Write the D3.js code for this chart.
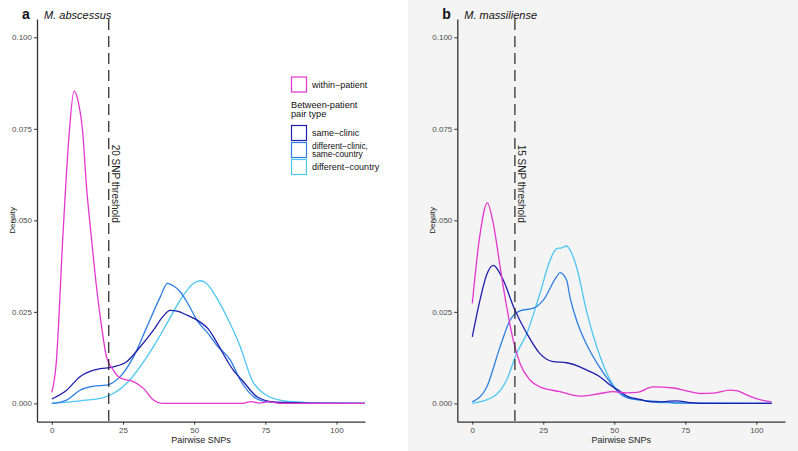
<!DOCTYPE html>
<html><head><meta charset="utf-8">
<script src="https://cdn.jsdelivr.net/npm/d3@7"></script>
<style>
body{margin:0;background:#fff;}
svg{display:block;font-family:"Liberation Sans",Arial,sans-serif;}
</style></head>
<body><svg id="c" width="798" height="451"></svg>
<script>
// ---- data ----
const yTicks = [0, 0.025, 0.05, 0.075, 0.1];
const xTicks = [0, 25, 50, 75, 100];
const seriesNames = ["within-patient","same-clinic","different-clinic","different-country"];
const seriesColors = ["#e535cf","#1f1fae","#2d7fe4","#4cc6f3"];
const legendLabels = [["within\u2212patient"],["same\u2212clinic"],["different\u2212clinic,","same-country"],["different\u2212country"]];
const panelLetters = ["a","b"];
const panelTitles = ["M. abscessus","M. massiliense"];
const thresholds = [20, 15];
const thresholdLabels = ["20 SNP threshold","15 SNP threshold"];

const aWithin = [[0,0.0030],[1.5,0.0105],[4,0.0473],[6.1,0.0737],[7.8,0.0853],[9.4,0.082],[10.8,0.0746],[12.2,0.0591],[14,0.0446],[15.7,0.0318],[17.5,0.0209],[19.2,0.0127],[21.6,0.0091],[23.4,0.0073],[26.3,0.0064],[28.2,0.0061],[32.2,0.0041],[35.7,0.0009],[38.6,0],[50,0],[67,0],[70,0.0005],[73,0.0001],[76,0.0005],[80,0],[110,0]];
const aSameClinic = [[0,0.0012],[5.2,0.0036],[9.9,0.0073],[15.8,0.0093],[21.6,0.0100],[26.3,0.0114],[31,0.0154],[35.7,0.0200],[39,0.0237],[41.6,0.0254],[44,0.0252],[47.5,0.0241],[52.1,0.0222],[55,0.0203],[58,0.0166],[61.5,0.0118],[64,0.0088],[66.8,0.0064],[72.1,0.0018],[77.9,0.0004],[85,0.0002],[90,0],[110,0]];
const aDiffClinic = [[0,0],[5.2,0.0009],[9.9,0.0036],[14.6,0.0047],[19.3,0.0050],[24,0.0073],[28.7,0.0127],[33.4,0.0209],[38.1,0.0291],[40.6,0.0328],[42.5,0.0322],[45.1,0.0305],[48,0.0270],[51,0.0227],[55,0.0190],[58,0.0158],[62.7,0.0118],[66.2,0.0064],[70.9,0.0018],[75.6,0.0004],[80,0.0002],[110,0]];
const aDiffCountry = [[0,0],[9.9,0.0007],[18.1,0.0016],[21.6,0.0027],[26.3,0.0055],[31,0.0100],[35.7,0.0155],[40.4,0.0218],[45.1,0.0282],[49.8,0.0328],[52.1,0.0335],[54,0.0330],[57,0.0300],[61.5,0.0236],[66.2,0.0155],[70.3,0.0064],[74.4,0.0027],[81.5,0.0007],[87,0.0004],[92,0.0001],[110,0]];

const bWithin = [[0,0.0273],[2.5,0.0450],[5.3,0.0548],[7.4,0.0491],[9.8,0.0373],[12.1,0.0264],[14.4,0.0173],[16.8,0.0109],[20.3,0.0064],[23.8,0.0045],[30.9,0.0032],[37.9,0.0020],[44.9,0.0027],[49.6,0.0032],[54.3,0.0029],[58,0.0030],[63.7,0.0045],[70.8,0.0042],[75,0.0035],[80.2,0.0027],[85,0.0028],[90.7,0.0036],[93,0.0035],[96.6,0.0023],[100,0.0013],[105.4,0.0004]];
const bSameClinic = [[0,0.0182],[2.7,0.0282],[5,0.0350],[7.4,0.0377],[9,0.0365],[10.9,0.0337],[15,0.0255],[19.2,0.0191],[23.8,0.0136],[28.5,0.0114],[33.2,0.0111],[37.9,0.0100],[40.3,0.0091],[44.9,0.0073],[48.5,0.0050],[52,0.0033],[54.4,0.0020],[59,0.0011],[63.7,0.0004],[68,0.0005],[71.9,0.0007],[76,0.0003],[80,0],[105.4,0]];
const bDiffClinic = [[0,0.0004],[5.1,0.0045],[9.8,0.0155],[13.3,0.0227],[16.8,0.0253],[21.5,0.0260],[25,0.0282],[29.7,0.0346],[30.9,0.0357],[33.2,0.0337],[34.4,0.0290],[36.8,0.0225],[40.3,0.0160],[44.3,0.0105],[48.5,0.0058],[51,0.0034],[54.4,0.0016],[59,0.0009],[66,0.0005],[72,0.0001],[105.4,0]];
const bDiffCountry = [[0,0],[7.4,0.0018],[12.1,0.0064],[15.6,0.0136],[19.2,0.0191],[23.8,0.0300],[27.4,0.0391],[29.7,0.0423],[31.5,0.0425],[33.2,0.0430],[35,0.0410],[36.8,0.0370],[40.3,0.0250],[44.9,0.0130],[49.6,0.0050],[54.3,0.0018],[61.4,0.0007],[66,0.0002],[105.4,0]];

const panelSeries = [[aWithin,aSameClinic,aDiffClinic,aDiffCountry],[bWithin,bSameClinic,bDiffClinic,bDiffCountry]];

// ---- layout ----
const svg = d3.select("#c");
svg.append("rect").attr("x",408).attr("y",0).attr("width",390).attr("height",451).attr("fill","#f4f4f4");

const panels = [
  {x0:37, x1:365, dom:[-5.2,110]},
  {x0:457.3, x1:785, dom:[-5.28,110.1]}
];
const yTop = 19, yBot = 421.7;
const y = d3.scaleLinear().domain([-0.005,0.105]).range([yBot,yTop]);

panels.forEach((p,i)=>{
  const x = d3.scaleLinear().domain(p.dom).range([p.x0,p.x1]);
  const g = svg.append("g");

  const line = d3.line().x(d=>x(d[0])).y(d=>y(d[1])).curve(d3.curveMonotoneX);
  [3,2,1,0].forEach(k=>{
    g.append("path").datum(panelSeries[i][k]).attr("d",line)
      .attr("fill","none").attr("stroke",seriesColors[k]).attr("stroke-width",1.3);
  });

  g.append("line").attr("x1",x(thresholds[i])).attr("x2",x(thresholds[i]))
    .attr("y1",yTop).attr("y2",yBot).attr("stroke","#222").attr("stroke-width",1.2)
    .attr("stroke-dasharray","11,6");
  g.append("text").attr("transform",`translate(${x(thresholds[i])+3},${y(0.06)}) rotate(90)`)
    .attr("text-anchor","middle").attr("font-size",10).attr("fill","#222")
    .text(thresholdLabels[i]);

  const ax = g.append("g").attr("transform",`translate(0,${yBot})`)
    .call(d3.axisBottom(x).tickValues(xTicks).tickSize(3).tickSizeOuter(0).tickPadding(3));
  const ay = g.append("g").attr("transform",`translate(${p.x0},0)`)
    .call(d3.axisLeft(y).tickValues(yTicks).tickFormat(d3.format(".3f")).tickSize(3).tickSizeOuter(0).tickPadding(2));
  [ax,ay].forEach(a=>{
    a.select(".domain").attr("stroke","#333").attr("stroke-width",1.3);
    a.selectAll(".tick line").attr("stroke","#333").attr("stroke-width",1);
    a.selectAll(".tick text").attr("fill","#4d4d4d").attr("font-size",8).attr("font-family","Liberation Sans, Arial, sans-serif");
  });

  g.append("text").attr("x",(p.x0+p.x1)/2).attr("y",443).attr("text-anchor","middle")
    .attr("font-size",9).attr("fill","#222").text("Pairwise SNPs");
  g.append("text").attr("transform",`translate(${p.x0-22},${(yTop+yBot)/2}) rotate(-90)`)
    .attr("text-anchor","middle").attr("font-size",8).attr("fill","#222").text("Density");

  g.append("text").attr("x",p.x0-15).attr("y",19).attr("font-size",14).attr("font-weight","bold").attr("fill","#111").text(panelLetters[i]);
  g.append("text").attr("x",p.x0+7).attr("y",19).attr("font-size",11).attr("font-style","italic").attr("fill","#111").text(panelTitles[i]);
});

// ---- legend ----
const lg = svg.append("g").attr("font-size",9).attr("fill","#111");
const keyY = [77, 125.5, 142.5, 159.5];
const keyX = 291, keyS = 15;
seriesNames.forEach((n,k)=>{
  lg.append("rect").attr("x",keyX+0.5).attr("y",keyY[k]).attr("width",keyS).attr("height",keyS)
    .attr("fill","#fff").attr("stroke",seriesColors[k]).attr("stroke-width",1.2);
  const labs = legendLabels[k];
  const cy = keyY[k]+keyS/2;
  labs.forEach((t,j)=>{
    lg.append("text").attr("x",keyX+21).attr("y",cy+3+(j-(labs.length-1)/2)*8.6)
      .attr("font-size",labs.length>1?8.4:9).text(t);
  });
});
lg.append("text").attr("x",keyX).attr("y",107.5).attr("font-size",9.2).text("Between-patient");
lg.append("text").attr("x",keyX).attr("y",117.3).attr("font-size",9.2).text("pair type");
</script></body></html>
